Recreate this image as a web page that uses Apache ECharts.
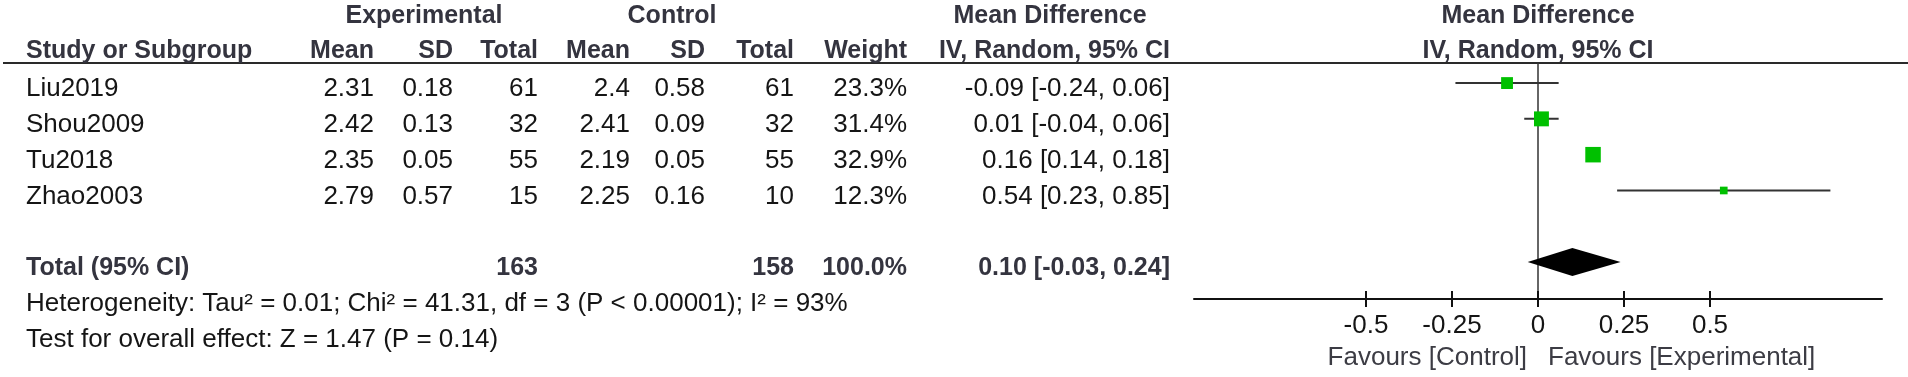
<!DOCTYPE html>
<html>
<head>
<meta charset="utf-8">
<script src="https://cdn.jsdelivr.net/npm/echarts@6/dist/echarts.min.js"></script>
<style>
  html, body { margin: 0; padding: 0; background: #fff; }
  #chart { width: 1908px; height: 377px; }
</style>
</head>
<body>
<div id="chart"></div>
<script>
// study rows
const studies = ['Liu2019', 'Shou2009', 'Tu2018', 'Zhao2003']
const expMean = [2.31, 2.42, 2.35, 2.79]
const expSD = [0.18, 0.13, 0.05, 0.57]
const expN = [61, 32, 55, 15]
const ctlMean = [2.4, 2.41, 2.19, 2.25]
const ctlSD = [0.58, 0.09, 0.05, 0.16]
const ctlN = [61, 32, 55, 10]
const weight = [23.3, 31.4, 32.9, 12.3]
const md = [-0.09, 0.01, 0.16, 0.54]
const ciLow = [-0.24, -0.04, 0.14, 0.23]
const ciHigh = [0.06, 0.06, 0.18, 0.85]

// pooled result
const totalN = [163, 158]
const totalWeight = 100.0
const totalMD = [0.10, -0.03, 0.24] // estimate, low, high
const TOTAL_ROW = 5

const xTicks = [-0.5, -0.25, 0, 0.25, 0.5]

const FONT = '"Liberation Sans", Arial, sans-serif'
const FS = 26      // regular text
const FS_BOLD = 25 // headers / total row
const HEAD_COLOR = '#34343f'
const TEXT_COLOR = '#151515'
const TEXT_DY = 6
// right edges of the numeric columns
const COL_RIGHT = [374, 453, 538, 630, 705, 794, 907, 1170]

const fmtCI = (m, l, h) => `${m.toFixed(2)} [${l.toFixed(2)}, ${h.toFixed(2)}]`

const chart = echarts.init(document.getElementById('chart'), null, { renderer: 'canvas' })

const txt = (text, x, y, align, bold, color) => ({
  type: 'text',
  style: {
    text, x, y,
    align, verticalAlign: 'middle',
    fontFamily: FONT, fontSize: bold ? FS_BOLD : FS,
    fontWeight: bold ? 'bold' : 'normal',
    fill: color || TEXT_COLOR,
  },
})

const option = {
  animation: false,
  backgroundColor: '#fff',
  grid: { left: 1194, right: 26, top: 63, bottom: 78, containLabel: false, outerBoundsMode: 'none' },
  xAxis: [
    {
      type: 'value', min: -1, max: 1, position: 'bottom',
      axisLine: { onZero: false, lineStyle: { color: '#111', width: 2 } },
      axisTick: { show: true, length: 8, customValues: xTicks, lineStyle: { color: '#111', width: 2 } },
      axisLabel: {
        customValues: xTicks, margin: 14, color: TEXT_COLOR,
        fontFamily: FONT, fontSize: FS,
      },
      splitLine: { show: false },
    },
    {
      // second axis only to draw the upper half of the crossing ticks
      type: 'value', min: -1, max: 1, position: 'bottom',
      axisLine: { show: false, onZero: false },
      axisTick: { show: true, inside: true, length: 8, customValues: xTicks, lineStyle: { color: '#111', width: 2 } },
      axisLabel: { show: false },
      splitLine: { show: false },
    },
  ],
  yAxis: {
    type: 'value', min: -0.56, max: 6.03, inverse: true,
    axisLine: { show: true, onZero: true, lineStyle: { color: '#333', width: 1.5 } },
    axisTick: { show: false },
    axisLabel: { show: false },
    splitLine: { show: false },
  },
  graphic: [
    { type: 'line', shape: { x1: 3, y1: 63, x2: 1908, y2: 63 }, style: { stroke: '#2a2a2a', lineWidth: 2 } },
    txt('Experimental', 424, 16, 'center', true, HEAD_COLOR),
    txt('Control', 672, 16, 'center', true, HEAD_COLOR),
    txt('Mean Difference', 1050, 16, 'center', true, HEAD_COLOR),
    txt('Mean Difference', 1538, 16, 'center', true, HEAD_COLOR),
    txt('Study or Subgroup', 26, 51, 'left', true, HEAD_COLOR),
    ...['Mean', 'SD', 'Total', 'Mean', 'SD', 'Total', 'Weight', 'IV, Random, 95% CI']
      .map((h, k) => txt(h, COL_RIGHT[k], 51, 'right', true, HEAD_COLOR)),
    txt('IV, Random, 95% CI', 1538, 51, 'center', true, HEAD_COLOR),
    txt('Heterogeneity: Tau\u00b2 = 0.01; Chi\u00b2 = 41.31, df = 3 (P < 0.00001); I\u00b2 = 93%', 26, 304, 'left', false),
    txt('Test for overall effect: Z = 1.47 (P = 0.14)', 26, 340, 'left', false),
    txt('Favours [Control]', 1527, 358, 'right', false, '#3c3c44'),
    txt('Favours [Experimental]', 1548, 358, 'left', false, '#3c3c44'),
  ],
  series: [
    {
      // study table rows
      type: 'custom',
      clip: false,
      silent: true,
      data: studies.map((s, i) => [0, i]),
      renderItem: (params, api) => {
        const i = params.dataIndex
        const y = api.coord([0, i])[1] + TEXT_DY
        const cells = [
          expMean[i], expSD[i], expN[i], ctlMean[i], ctlSD[i], ctlN[i],
          weight[i].toFixed(1) + '%', fmtCI(md[i], ciLow[i], ciHigh[i]),
        ]
        return {
          type: 'group',
          children: [
            txt(studies[i], 26, y, 'left', false),
            ...cells.map((c, k) => txt(String(c), COL_RIGHT[k], y, 'right', false)),
          ],
        }
      },
    },
    {
      // total row
      type: 'custom',
      clip: false,
      silent: true,
      data: [[0, TOTAL_ROW]],
      renderItem: (params, api) => {
        const y = api.coord([0, TOTAL_ROW])[1] + TEXT_DY
        return {
          type: 'group',
          children: [
            txt('Total (95% CI)', 26, y, 'left', true, HEAD_COLOR),
            txt(String(totalN[0]), COL_RIGHT[2], y, 'right', true, HEAD_COLOR),
            txt(String(totalN[1]), COL_RIGHT[5], y, 'right', true, HEAD_COLOR),
            txt(totalWeight.toFixed(1) + '%', COL_RIGHT[6], y, 'right', true, HEAD_COLOR),
            txt(fmtCI(totalMD[0], totalMD[1], totalMD[2]), COL_RIGHT[7], y, 'right', true, HEAD_COLOR),
          ],
        }
      },
    },
    {
      // confidence interval whiskers
      type: 'custom',
      clip: false,
      silent: true,
      data: studies.map((s, i) => [ciLow[i], ciHigh[i], i]),
      renderItem: (params, api) => {
        const a = api.coord([api.value(0), api.value(2)])
        const b = api.coord([api.value(1), api.value(2)])
        return {
          type: 'line',
          shape: { x1: a[0], y1: a[1], x2: b[0], y2: b[1] },
          style: { stroke: '#333', lineWidth: 2 },
        }
      },
      z: 2,
    },
    {
      // study estimates, square size follows weight
      type: 'scatter',
      silent: true,
      symbol: 'rect',
      data: studies.map((s, i) => [md[i], i, weight[i]]),
      symbolSize: (v) => 0.38 * v[2] + 3,
      itemStyle: { color: '#00c000', opacity: 1 },
      z: 3,
    },
    {
      // pooled diamond
      type: 'custom',
      clip: false,
      silent: true,
      data: [[totalMD[0], totalMD[1], totalMD[2], TOTAL_ROW]],
      renderItem: (params, api) => {
        const row = api.value(3)
        const c = api.coord([api.value(0), row])
        const l = api.coord([api.value(1), row])
        const r = api.coord([api.value(2), row])
        const h = 14
        return {
          type: 'polygon',
          shape: { points: [[l[0], c[1]], [c[0], c[1] - h], [r[0], c[1]], [c[0], c[1] + h]] },
          style: { fill: '#000' },
        }
      },
      z: 3,
    },
  ],
}

chart.setOption(option)
window.addEventListener('resize', () => chart.resize())
</script>
</body>
</html>
